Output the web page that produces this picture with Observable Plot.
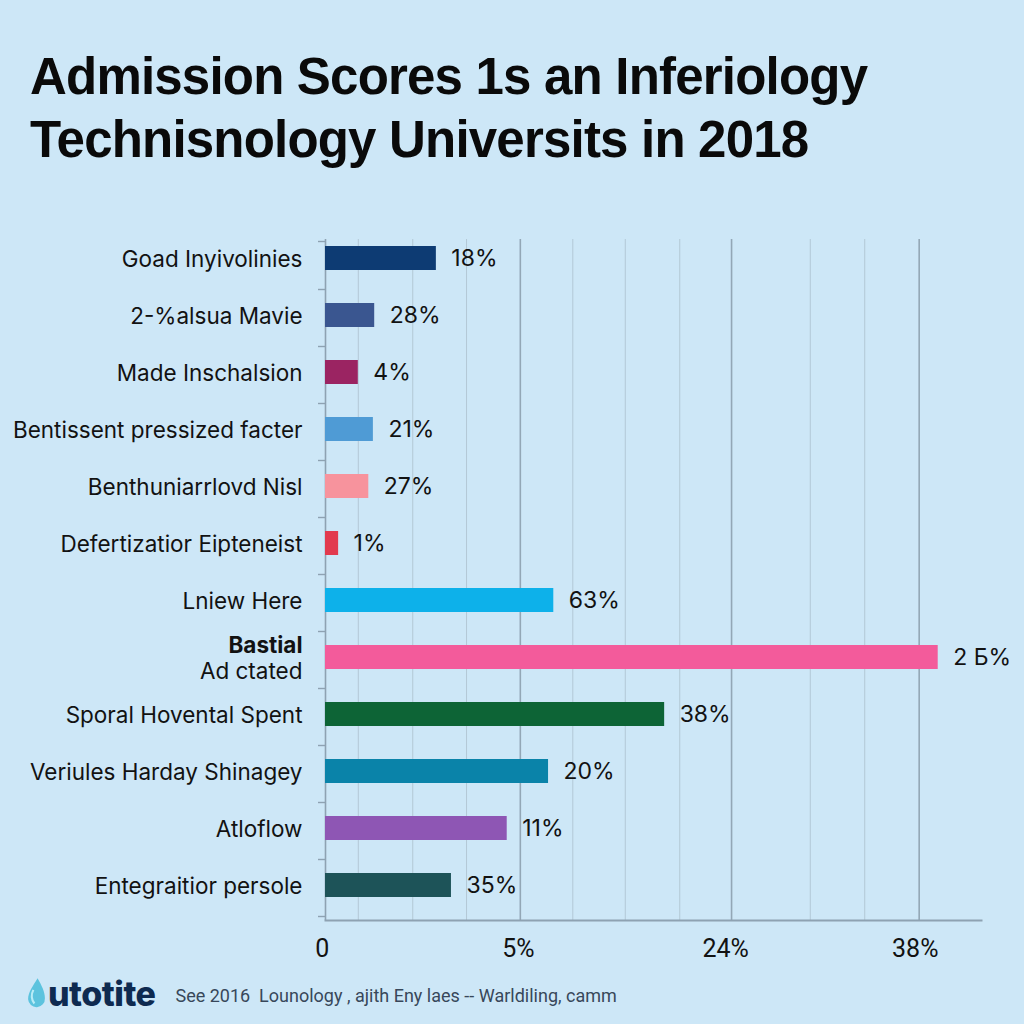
<!DOCTYPE html>
<html>
<head>
<meta charset="utf-8">
<script src="https://cdn.jsdelivr.net/npm/d3@7"></script>
<script src="https://cdn.jsdelivr.net/npm/@observablehq/plot@0.6"></script>
<style>
  html, body { margin: 0; padding: 0; width: 1024px; height: 1024px; overflow: hidden; background: #cde7f7; }
  #title { position: absolute; left: 30px; top: 45px; font-family: "Liberation Sans", Arial, sans-serif; font-weight: 700; font-size: 51px; line-height: 63px; letter-spacing: -0.8px; color: #0a0a0a; white-space: nowrap; }
  #chart { position: absolute; left: 0; top: 200px; }
  #footer { position: absolute; left: 26px; top: 974px; height: 38px; display: flex; align-items: center; white-space: pre; }
  #logo { font-family: Inter, sans-serif; font-weight: 800; font-size: 34px; color: #0e2a50; letter-spacing: -0.5px; margin-left: 1px; }
  #caption { margin-left: 20px; font-family: Roboto, sans-serif; font-size: 18px; color: #38475a; padding-top: 4px; }
</style>
</head>
<body>
<div id="title">Admission Scores 1s an Inferiology<br>Technisnology Universits in 2018</div>
<div id="chart"></div>
<div id="footer">
  <svg width="21" height="32" viewBox="0 0 20 30"><path d="M11 1 C 15 8, 18 14, 18 20 A 8 8 0 0 1 2 21 C 2 14, 7 8, 11 1 Z" fill="#5cc3de"/><path d="M7 12 C 5 16, 5 21, 8 25" stroke="#b9ecf7" stroke-width="2" fill="none"/></svg>
  <span id="logo">utotite</span>
  <span id="caption">See 2016  Lounology , ajith Eny laes -- Warldiling, camm</span>
</div>
<script>
const categories = [
  "Goad Inyivolinies",
  "2-%alsua Mavie",
  "Made Inschalsion",
  "Bentissent pressized facter",
  "Benthuniarrlovd Nisl",
  "Defertizatior Eipteneist",
  "Lniew Here",
  "Bastial\nAd ctated",
  "Sporal Hovental Spent",
  "Veriules Harday Shinagey",
  "Atloflow",
  "Entegraitior persole"
];
const values = [16.9, 7.5, 5.0, 7.3, 6.6, 2.0, 34.8, 93.4, 51.7, 34.0, 27.7, 19.2];
const valueLabels = ["18%", "28%", "4%", "21%", "27%", "1%", "63%", "2 Б%", "38%", "20%", "11%", "35%"];
const colors = ["#0d3b73", "#3a5690", "#9b2462", "#4f9bd5", "#f7939d", "#e23a4e", "#0db1ea", "#f35b9b", "#0d6436", "#0a83a9", "#8e56b4", "#1d5358"];
const gridMinor = [5.0, 13.3, 21.5, 37.7, 45.7, 54.0, 73.9, 82.2];
const gridMajor = [29.7, 61.9, 90.5];
const xTickAt = [-0.5, 29.4, 61.0, 89.9];
const xTickLabels = ["0", "5%", "24%", "38%"];

const rows = categories.map((c, i) => ({category: c, value: values[i], label: valueLabels[i]}));

const plot = Plot.plot({
  width: 1024,
  height: 775,
  marginLeft: 325,
  marginRight: 43,
  marginTop: 39,
  marginBottom: 55,
  style: {background: "transparent", fontFamily: "Inter, sans-serif", overflow: "visible"},
  x: {domain: [0, 100], axis: null},
  y: {domain: categories, range: [29.5, 713.5], paddingInner: 0.58, paddingOuter: 0.29, axis: null},
  color: {domain: categories, range: colors},
  marks: [
    Plot.gridX(gridMinor, {stroke: "#b3c8d6", strokeOpacity: 1, strokeWidth: 1}),
    Plot.gridX(gridMajor, {stroke: "#93a7b6", strokeOpacity: 1, strokeWidth: 1.6}),
    Plot.ruleX([0], {stroke: "#8ea2b2", strokeWidth: 1.6}),
    Plot.frame({anchor: "bottom", stroke: "#8ea2b2", strokeWidth: 2}),
    Plot.ruleY(categories, {y: d => d, x1: -1.07, x2: 0, dy: 31, stroke: "#8ea2b2", strokeWidth: 1.4}),
    Plot.ruleY([categories[0]], {y: d => d, x1: -1.07, x2: 0, dy: -17, stroke: "#8ea2b2", strokeWidth: 1.4}),
    Plot.barX(rows, {x: "value", y: "category", fill: "category"}),
    Plot.text(rows, {x: "value", y: "category", text: "label", dx: 15, textAnchor: "start", fontSize: 23, fill: "#121212"}),
    Plot.text(rows, {x: 0, y: "category", text: "category", dx: -23, textAnchor: "end", fontSize: 22.5, lineHeight: 1.16, fill: "#121212"}),
    Plot.text(xTickLabels, {x: (d, i) => xTickAt[i], text: d => d, frameAnchor: "bottom", dy: 36, fontSize: 25, fontFamily: "Roboto, sans-serif", fill: "#121212"})
  ]
});
document.getElementById("chart").appendChild(plot);
plot.querySelectorAll("tspan").forEach(t => { if (t.textContent === "Bastial") t.setAttribute("font-weight", "bold"); });
</script>
</body>
</html>
